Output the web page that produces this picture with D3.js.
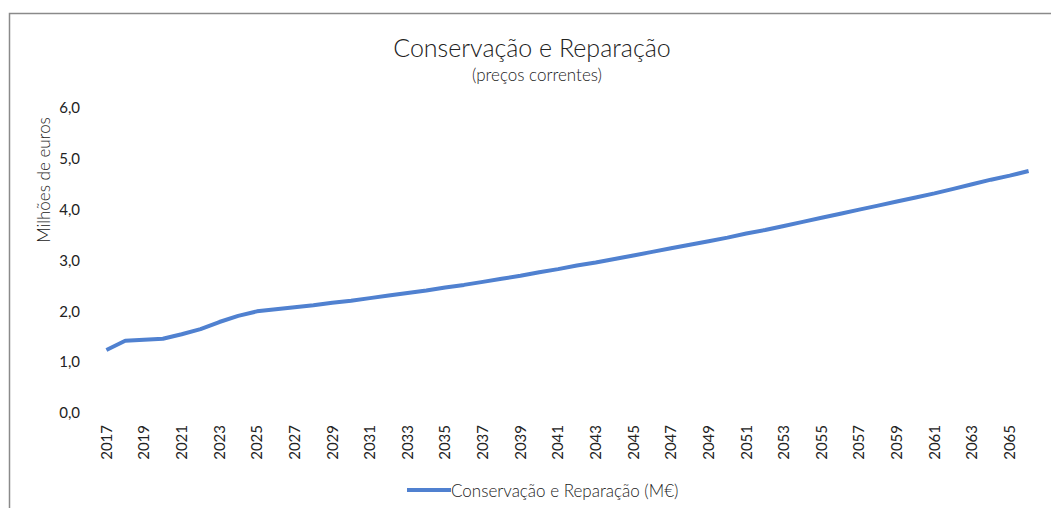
<!DOCTYPE html>
<html>
<head>
<meta charset="utf-8">
<script src="https://cdn.jsdelivr.net/npm/d3@7"></script>
<style>
  body { margin: 0; background: #fff; }
  text { font-family: Lato, "Open Sans", sans-serif; fill: #222; }
</style>
</head>
<body>
<div id="chart"></div>
<script>
// years 2017..2066
var years = d3.range(2017, 2067);
var values = [
  1.24, 1.42, 1.44, 1.46, 1.55, 1.65, 1.79, 1.91, 2.00, 2.04,
  2.08, 2.12, 2.17, 2.21, 2.26, 2.31, 2.36, 2.41, 2.47, 2.52,
  2.58, 2.64, 2.70, 2.77, 2.83, 2.90, 2.96, 3.03, 3.10, 3.17,
  3.24, 3.31, 3.38, 3.45, 3.53, 3.60, 3.68, 3.76, 3.84, 3.92,
  4.00, 4.08, 4.16, 4.24, 4.32, 4.41, 4.50, 4.59, 4.67, 4.76
];
var yTicks = [0, 1, 2, 3, 4, 5, 6];
var seriesName = "Conservação e Reparação (M€)";

var width = 1051, height = 508;
var margin = {top: 108, right: 13, bottom: 95, left: 97};

var svg = d3.select("#chart").append("svg")
    .attr("width", width)
    .attr("height", height);

// outer frame
svg.append("rect")
    .attr("x", 9.5).attr("y", 13.5)
    .attr("width", 1060).attr("height", 520)
    .attr("fill", "none")
    .attr("stroke", "#8a8a8a")
    .attr("stroke-width", 1.5);

var x = d3.scaleBand()
    .domain(years)
    .range([margin.left, width - margin.right]);

var y = d3.scaleLinear()
    .domain([0, 6])
    .range([height - margin.bottom, margin.top]);

// y axis labels
var yAxis = svg.append("g")
    .attr("transform", "translate(" + (margin.left - 14) + ",0)")
    .call(d3.axisLeft(y).tickValues(yTicks).tickSize(0)
        .tickFormat(function(d) { return d3.format(".1f")(d).replace(".", ","); }));
yAxis.select(".domain").remove();
yAxis.selectAll("text")
    .attr("font-size", 15)
    .attr("dy", "0.32em")
    .style("font-family", "Lato, 'Open Sans', sans-serif")
    .attr("fill", "#222");

// x axis labels, every second year
var xAxis = svg.append("g")
    .attr("transform", "translate(0," + (height - margin.bottom) + ")")
    .call(d3.axisBottom(x).tickSize(0)
        .tickValues(years.filter(function(d, i) { return i % 2 === 0; })));
xAxis.select(".domain").remove();
xAxis.selectAll("text")
    .attr("font-size", 15)
    .style("font-family", "Lato, 'Open Sans', sans-serif")
    .attr("fill", "#222")
    .attr("text-anchor", "end")
    .attr("transform", "rotate(-90)")
    .attr("x", -12)
    .attr("y", 0)
    .attr("dy", "0.35em");

// line
var line = d3.line()
    .x(function(d, i) { return x(years[i]) + x.bandwidth() / 2; })
    .y(function(d) { return y(d); });

svg.append("path")
    .datum(values)
    .attr("fill", "none")
    .attr("stroke", "#5081d0")
    .attr("stroke-width", 4)
    .attr("stroke-linejoin", "round")
    .attr("d", line);

// titles
svg.append("text")
    .attr("x", 532).attr("y", 57)
    .attr("text-anchor", "middle")
    .attr("font-size", 25)
    .attr("font-weight", 300)
    .text("Conservação e Reparação");

svg.append("text")
    .attr("x", 537).attr("y", 81)
    .attr("text-anchor", "middle")
    .attr("font-size", 17)
    .attr("font-weight", 300)
    .text("(preços correntes)");

svg.append("text")
    .attr("transform", "translate(50,180) rotate(-90)")
    .attr("text-anchor", "middle")
    .attr("font-size", 17)
    .attr("font-weight", 300)
    .text("Milhões de euros");

// legend
svg.append("line")
    .attr("x1", 407).attr("x2", 451)
    .attr("y1", 490).attr("y2", 490)
    .attr("stroke", "#5081d0")
    .attr("stroke-width", 4);

svg.append("text")
    .attr("x", 451).attr("y", 497)
    .attr("font-size", 17)
    .attr("font-weight", 300)
    .text(seriesName);
</script>
</body>
</html>
